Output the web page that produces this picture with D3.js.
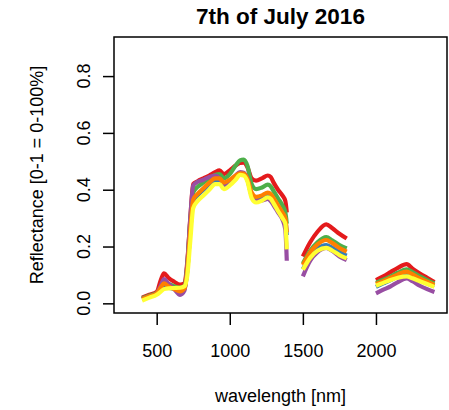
<!DOCTYPE html>
<html><head><meta charset="utf-8">
<script src="https://cdn.jsdelivr.net/npm/d3@7"></script>
<style>body{margin:0;background:#fff}svg{display:block}text{font-family:"Liberation Sans",Arial,sans-serif;fill:#000}</style>
</head><body><svg id="c" width="449" height="410"></svg>
<script>
const wavelengths = [400,450,500,530,550,580,620,660,690,710,730,750,780,820,860,900,930,960,1000,1040,1070,1095,1120,1150,1180,1220,1260,1280,1300,1330,1360,1380,1390,
  1450,
  1500,1550,1600,1660,1700,1750,1800,
  1900,
  2000,2050,2100,2150,2210,2250,2300,2350,2400];
const red = [.020,.030,.040,.085,.106,.090,.076,.066,.070,.150,.300,.420,.430,.440,.450,.462,.468,.455,.468,.485,.494,.495,.480,.440,.432,.440,.450,.445,.425,.400,.380,.360,.320,
  null,
  .165,.215,.252,.278,.265,.245,.228,
  null,
  .082,.095,.110,.125,.138,.122,.105,.090,.075];
const blue = [.015,.025,.035,.052,.060,.055,.050,.040,.050,.120,.255,.360,.380,.400,.420,.432,.432,.415,.428,.445,.455,.455,.435,.380,.365,.372,.382,.377,.362,.338,.315,.295,.240,
  null,
  .120,.165,.192,.205,.196,.180,.168,
  null,
  .058,.070,.082,.095,.105,.095,.082,.070,.060];
const green = [.018,.028,.036,.060,.075,.068,.060,.055,.062,.140,.290,.390,.410,.425,.440,.452,.455,.440,.455,.485,.503,.506,.485,.420,.402,.408,.418,.412,.395,.370,.345,.320,.280,
  null,
  .140,.185,.215,.233,.222,.205,.193,
  null,
  .072,.083,.095,.108,.120,.110,.095,.082,.070];
const purple = [.015,.025,.035,.065,.085,.070,.050,.030,.045,.140,.300,.415,.428,.435,.445,.450,.440,.418,.430,.450,.462,.460,.440,.380,.360,.362,.368,.360,.345,.320,.295,.260,.150,
  null,
  .095,.150,.180,.195,.185,.165,.152,
  null,
  .035,.048,.060,.075,.088,.078,.062,.050,.040];
const orange = [.015,.025,.035,.058,.070,.060,.050,.042,.052,.120,.260,.365,.385,.405,.425,.440,.440,.425,.435,.450,.458,.457,.440,.390,.375,.380,.390,.385,.370,.345,.320,.300,.250,
  null,
  .135,.180,.208,.223,.213,.195,.182,
  null,
  .068,.078,.090,.102,.112,.102,.088,.076,.065];
const yellow = [.010,.020,.030,.042,.050,.053,.054,.055,.060,.100,.220,.335,.360,.380,.400,.420,.420,.402,.415,.435,.452,.450,.430,.370,.355,.362,.373,.368,.352,.325,.300,.280,.190,
  null,
  .118,.160,.185,.195,.186,.170,.158,
  null,
  .062,.072,.082,.090,.095,.088,.078,.068,.058];
const seriesNames = ["red","blue","green","purple","orange","yellow"];
const seriesValues = [red, blue, green, purple, orange, yellow];
const seriesColors = ["#E41A1C","#377EB8","#4DAF4A","#984EA3","#FF7F00","#FFFF33"];
const xTicks = [500,1000,1500,2000];
const yTicks = [0,0.2,0.4,0.6,0.8];
const title = "7th of July 2016";
const xTitle = "wavelength [nm]";
const yTitle = "Reflectance [0-1 = 0-100%]";

const L=114,R=447,T=37,B=313;
const svg=d3.select("#c");
const x=d3.scaleLinear().domain([208,2486]).range([L,R]);
const y=d3.scaleLinear().domain([-0.034,0.9376]).range([B,T]);

const line=d3.line().defined(d=>d[1]!=null).x(d=>x(d[0])).y(d=>y(d[1])).curve(d3.curveMonotoneX);
seriesValues.forEach((vals,i)=>{
  const pts=wavelengths.map((w,j)=>[w,vals[j]]);
  svg.append("path").attr("d",line(pts)).attr("fill","none")
    .attr("stroke",seriesColors[i]).attr("stroke-width",4.2)
    .attr("stroke-linejoin","round").attr("stroke-linecap","butt");
});

svg.append("rect").attr("x",L).attr("y",T).attr("width",R-L).attr("height",B-T)
  .attr("fill","none").attr("stroke","#000").attr("stroke-width",1.5);

const xa=svg.append("g").attr("transform",`translate(0,${B})`)
  .call(d3.axisBottom(x).tickValues(xTicks).tickSize(12).tickPadding(19).tickFormat(d3.format("d")));
xa.select(".domain").remove();
xa.selectAll("line").attr("stroke","#000").attr("stroke-width",1.5);
xa.selectAll("text").attr("font-size",18).attr("font-family","Liberation Sans, Arial, sans-serif").attr("fill","#000");

const ya=svg.append("g").attr("transform",`translate(${L},0)`)
  .call(d3.axisLeft(y).tickValues(yTicks).tickSize(11).tickFormat(d3.format(".1f")));
ya.select(".domain").remove();
ya.selectAll("line").attr("stroke","#000").attr("stroke-width",1.5);
ya.selectAll("text").remove();
yTicks.forEach(t=>{
  svg.append("text").attr("transform",`translate(89.5,${y(t)}) rotate(-90)`)
    .attr("text-anchor","middle").attr("font-size",18).text(d3.format(".1f")(t));
});

svg.append("text").attr("x",280.5).attr("y",23.5).attr("text-anchor","middle")
  .attr("font-size",22.5).attr("font-weight","bold").text(title);
svg.append("text").attr("x",280.5).attr("y",401.5).attr("text-anchor","middle")
  .attr("font-size",18).text(xTitle);
svg.append("text").attr("transform",`translate(43,${(T+B)/2}) rotate(-90)`)
  .attr("text-anchor","middle").attr("font-size",18).text(yTitle);
</script></body></html>
